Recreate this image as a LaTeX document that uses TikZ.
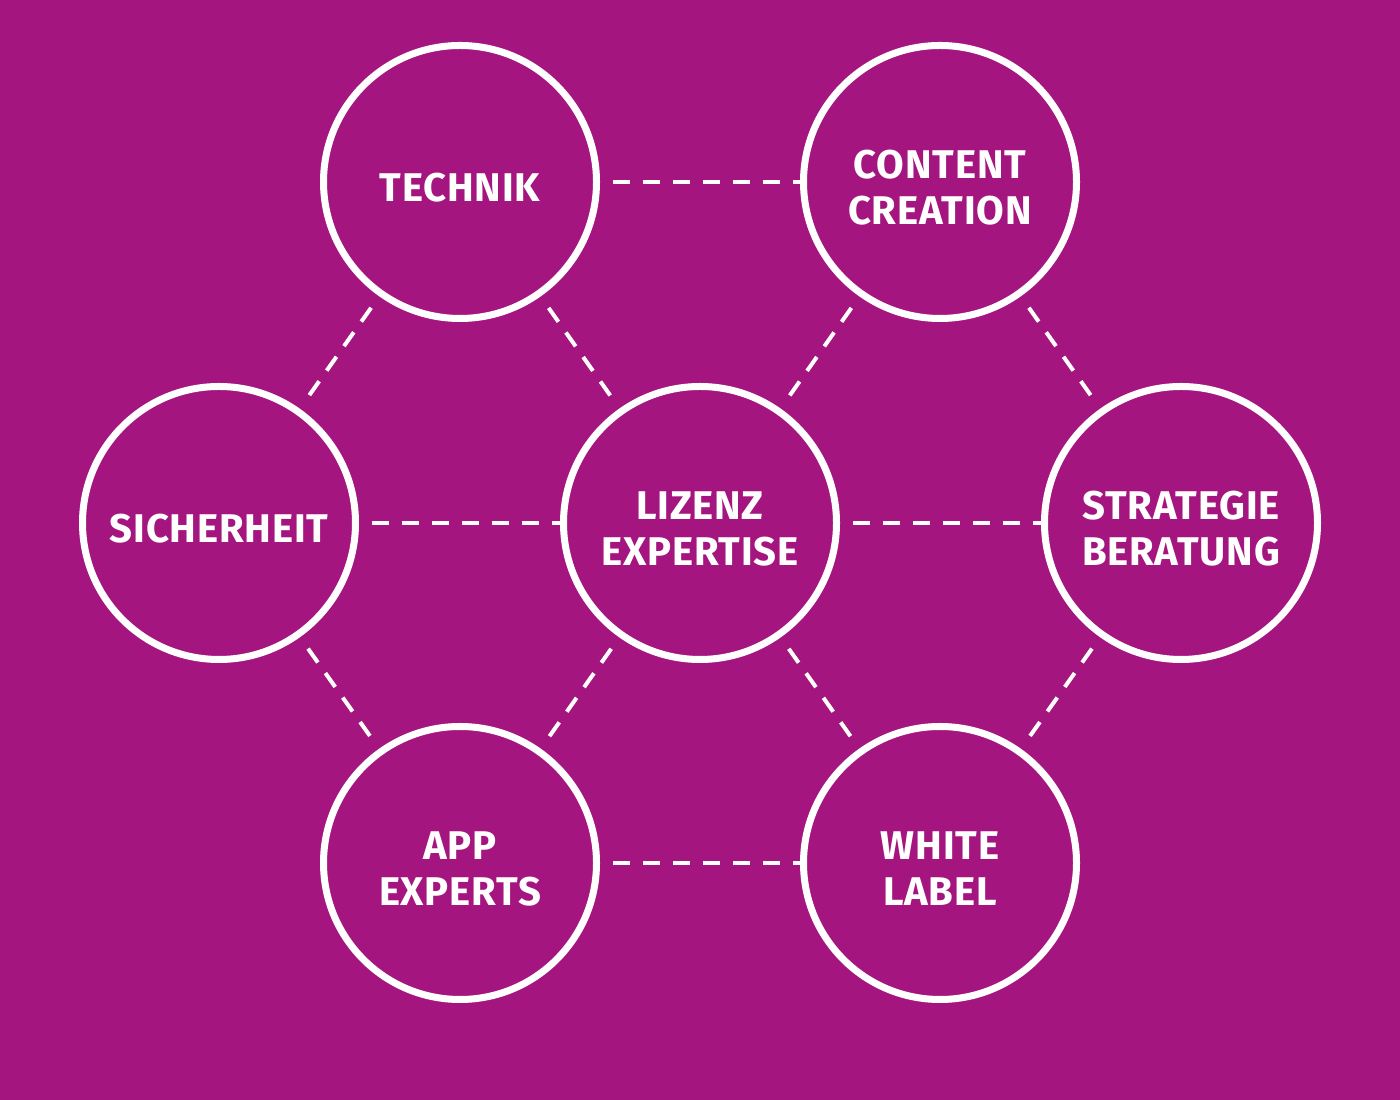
\documentclass[tikz,border=0pt]{standalone}
\usepackage{fontspec}
\setmainfont{Fira Sans}
\usepackage{tikz}
\definecolor{bg}{HTML}{A51580}

\begin{document}
\begin{tikzpicture}[
  hub/.style={circle, draw=white, line width=0.07cm, minimum size=2.73cm, inner sep=0pt},
  txt/.style={text=white, align=center, yshift=-0.06cm,
    font=\fontsize{11.4}{13.1}\selectfont\bfseries\addfontfeature{LetterSpace=2}},
  link/.style={white, line width=0.04cm, dash pattern=on 0.17cm off 0.13cm,
    shorten <=0.14cm, shorten >=0.14cm},
  hlink/.style={link, shorten <=0.13cm, shorten >=0cm}]
\fill [bg] (0,0) rectangle (14,11);
\node [hub, label={[txt]center:TECHNIK}] (t) at (4.60,9.18) {};
\node [hub, label={[txt]center:{CONTENT\\CREATION}}] (c) at (9.40,9.18) {};
\node [hub, label={[txt]center:SICHERHEIT}] (s) at (2.19,5.77) {};
\node [hub, label={[txt]center:{LIZENZ\\EXPERTISE}}] (l) at (7.00,5.77) {};
\node [hub, label={[txt]center:{STRATEGIE\\BERATUNG}}] (st) at (11.81,5.77) {};
\node [hub, label={[txt]center:{APP\\EXPERTS}}] (a) at (4.60,2.37) {};
\node [hub, label={[txt]center:{WHITE\\LABEL}}] (w) at (9.40,2.37) {};
\draw [hlink] (t) -- (c);
\draw [hlink] (s) -- (l);
\draw [hlink] (l) -- (st);
\draw [hlink] (a) -- (w);
\draw [link] (t) -- (s);
\draw [link] (t) -- (l);
\draw [link] (c) -- (l);
\draw [link] (c) -- (st);
\draw [link] (s) -- (a);
\draw [link] (l) -- (a);
\draw [link] (l) -- (w);
\draw [link] (st) -- (w);
\end{tikzpicture}
\end{document}
